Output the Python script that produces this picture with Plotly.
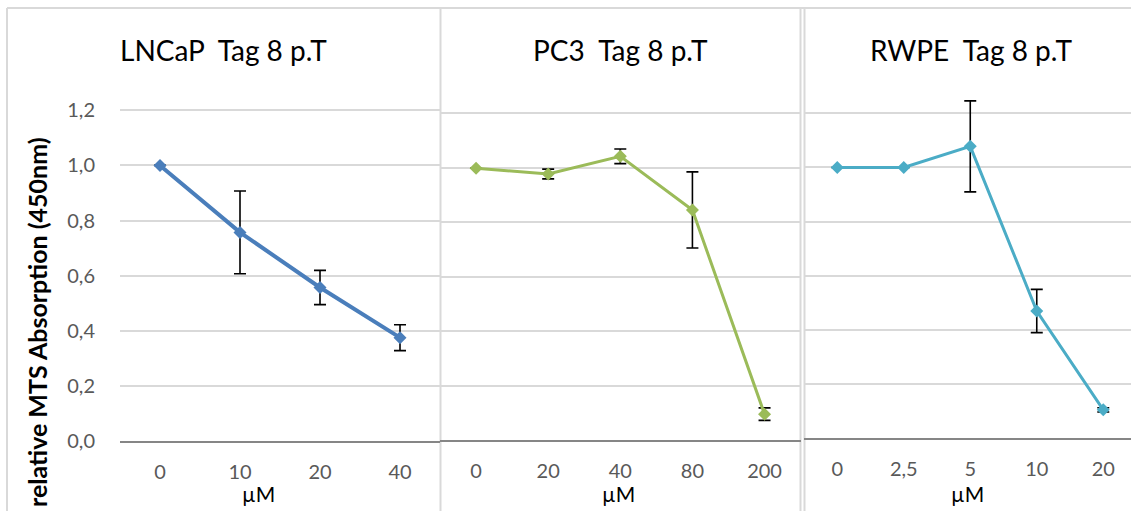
import plotly.graph_objects as go

W, H = 1131, 511

# ---- data ----
lncap_x = ["0", "10", "20", "40"]
lncap_y = [1.0, 0.757, 0.557, 0.375]
lncap_err = [0.0, 0.15, 0.062, 0.047]

pc3_x = ["0", "20", "40", "80", "200"]
pc3_y = [0.998, 0.977, 1.042, 0.845, 0.095]
pc3_err = [0.0, 0.018, 0.027, 0.14, 0.023]

rwpe_x = ["0", "2,5", "5", "10", "20"]
rwpe_y = [1.0, 1.0, 1.078, 0.47, 0.105]
rwpe_err = [0.0, 0.0, 0.168, 0.08, 0.008]

y_max = 1.2
y_step = 0.2

titles = ["LNCaP\u00a0 Tag 8 p.T", "PC3\u00a0 Tag 8 p.T", "RWPE\u00a0 Tag 8 p.T"]
colors = ["#4A7EBB", "#9BBB59", "#4BACC6"]

FONT = "Lato"


def px(x):
    return x / W


def py(y):
    return 1 - y / H


EXT = 1.27


def ydom(bottom, top):
    # extend the range above 1.2 (invisible) so tall error bars are not clipped
    top_ext = bottom - (bottom - top) * EXT / y_max
    return [py(bottom), py(top_ext)]


YR = [0, EXT]

fig = go.Figure()

series = [
    (lncap_x, lncap_y, lncap_err, colors[0], 4, "x", "y"),
    (pc3_x, pc3_y, pc3_err, colors[1], 3, "x2", "y2"),
    (rwpe_x, rwpe_y, rwpe_err, colors[2], 3, "x3", "y3"),
]
for xs, ys, es, c, lw, xa, ya in series:
    fig.add_trace(go.Scatter(
        x=xs, y=ys, xaxis=xa, yaxis=ya, mode="lines+markers",
        line=dict(color=c, width=lw),
        marker=dict(symbol="diamond", size=10, color=c),
        error_y=dict(type="data", array=es, visible=True, color="black",
                     thickness=1.6, width=6),
        showlegend=False, hoverinfo="skip",
    ))

grid = "#D9D9D9"
axis_line = "#868686"
tickfont = dict(family=FONT, size=20, color="#595959")

common_x = dict(type="category", showgrid=False, showline=True, linecolor=axis_line,
                linewidth=2, ticks="outside", ticklen=12, tickcolor="rgba(0,0,0,0)",
                tickfont=tickfont, zeroline=False, fixedrange=True, automargin=False)
common_y = dict(showgrid=True, gridcolor=grid, gridwidth=1.5, zeroline=False,
                tickmode="array", tickvals=[0, 0.2, 0.4, 0.6, 0.8, 1.0, 1.2],
                tickformat=".1f",
                fixedrange=True, showline=False, automargin=False, range=YR,
                ticks="outside", ticklen=20, tickcolor="rgba(0,0,0,0)",
                tickfont=tickfont)

fig.update_layout(
    width=W, height=H,
    separators=",.",
    margin=dict(l=0, r=0, t=0, b=0, pad=0, autoexpand=False),
    paper_bgcolor="white", plot_bgcolor="rgba(0,0,0,0)",
    font=dict(family=FONT),
    xaxis=dict(common_x, domain=[px(120), px(440)], range=[-0.5, 3.5], anchor="y"),
    yaxis=dict(common_y, domain=ydom(441, 110.3), anchor="x", showticklabels=True),
    xaxis2=dict(common_x, domain=[px(440), px(800.6)], range=[-0.5, 4.5], anchor="y2"),
    yaxis2=dict(common_y, domain=ydom(440, 113.3), anchor="x2", showticklabels=False),
    xaxis3=dict(common_x, domain=[px(804), 1.0], range=[-0.5, 4.417], anchor="y3"),
    yaxis3=dict(common_y, domain=ydom(438.3, 113.3), anchor="x3", showticklabels=False),
)

# titles
title_pos = [(223, 50), (620, 50), (971, 50)]
for t, (x, y) in zip(titles, title_pos):
    fig.add_annotation(text=t, x=px(x), y=py(y), xref="paper", yref="paper",
                       showarrow=False, xanchor="center", yanchor="middle",
                       font=dict(family=FONT, size=28, color="black"))

# x axis titles
for x, y in [(258, 493), (618, 493), (968, 493)]:
    fig.add_annotation(text="µM", x=px(x), y=py(y), xref="paper", yref="paper",
                       showarrow=False, xanchor="center", yanchor="middle",
                       font=dict(family=FONT, size=21, color="black"))

# y axis title
fig.add_annotation(text="<b>relative MTS Absorption (450nm)</b>", x=px(37), y=py(322),
                   xref="paper", yref="paper", showarrow=False, textangle=-90,
                   xanchor="center", yanchor="middle",
                   font=dict(family=FONT, size=25, color="black"))

# panel borders
border = dict(color="#D9D9D9", width=2)
for x0, y0, x1, y1 in [(7, 8, 1131, 8), (7, 8, 7, 511), (440.5, 8, 440.5, 511),
                       (800.5, 8, 800.5, 511), (804.5, 8, 804.5, 511)]:
    fig.add_shape(type="line", x0=px(x0), y0=py(y0), x1=px(x1), y1=py(y1),
                  xref="paper", yref="paper", line=border, layer="below")

fig.write_html("out.html")
